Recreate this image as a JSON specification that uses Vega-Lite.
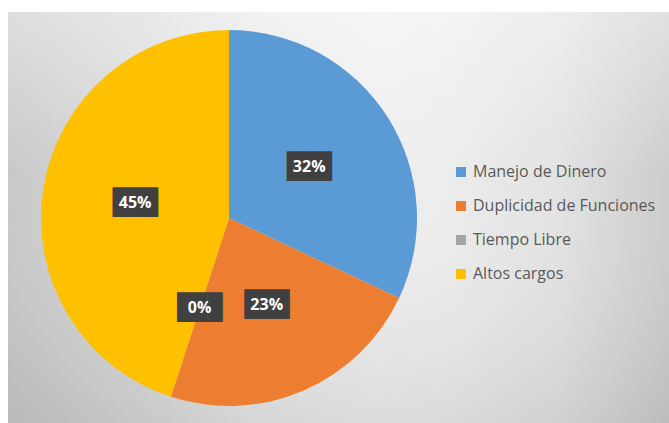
{
  "$schema": "https://vega.github.io/schema/vega-lite/v6.json",
  "padding": {"left": 8, "top": 12, "right": 0, "bottom": 0},
  "background": "#ffffff",
  "spacing": 0,
  "config": {"view": {"stroke": null}},
  "hconcat": [
    {
      "width": 442,
      "height": 412,
      "layer": [
        {
          "data": {"values": [{"fondo": 1}]},
          "mark": {
            "type": "rect",
            "color": {
              "gradient": "linear",
              "x1": 0, "y1": 0, "x2": 1, "y2": 0,
              "stops": [
                {"offset": 0, "color": "#c8c8c8"},
                {"offset": 0.3, "color": "#d8d8d8"},
                {"offset": 0.55, "color": "#e8e8e8"},
                {"offset": 0.84, "color": "#eeeeee"},
                {"offset": 1, "color": "#ececec"}
              ]
            }
          },
          "encoding": {}
        },
        {
          "data": {"values": [{"fondo": 1}]},
          "mark": {
            "type": "rect",
            "color": {
              "gradient": "linear",
              "x1": 0, "y1": 0, "x2": 0, "y2": 1,
              "stops": [
                {"offset": 0, "color": "rgba(255,255,255,0.4)"},
                {"offset": 0.4, "color": "rgba(255,255,255,0)"},
                {"offset": 1, "color": "rgba(0,0,0,0.08)"}
              ]
            }
          },
          "encoding": {}
        },
        {
          "data": {
            "values": [
              {"idx": 1, "categoria": "Manejo de Dinero", "valor": 32, "etiqueta": "32%"},
              {"idx": 2, "categoria": "Duplicidad de Funciones", "valor": 23, "etiqueta": "23%"},
              {"idx": 3, "categoria": "Tiempo Libre", "valor": 0, "etiqueta": "0%"},
              {"idx": 4, "categoria": "Altos cargos", "valor": 45, "etiqueta": "45%"}
            ]
          },
          "encoding": {
            "theta": {"field": "valor", "type": "quantitative", "stack": true},
            "order": {"field": "idx", "type": "quantitative"}
          },
          "layer": [
            {
              "mark": {"type": "arc", "outerRadius": 188},
              "encoding": {
                "color": {
                  "field": "categoria",
                  "type": "nominal",
                  "sort": ["Manejo de Dinero", "Duplicidad de Funciones", "Tiempo Libre", "Altos cargos"],
                  "scale": {
                    "domain": ["Manejo de Dinero", "Duplicidad de Funciones", "Tiempo Libre", "Altos cargos"],
                    "range": ["#5b9bd5", "#ed7d31", "#a5a5a5", "#ffc000"]
                  },
                  "legend": {
                    "title": null,
                    "orient": "none",
                    "legendX": 445,
                    "legendY": 152,
                    "symbolType": "square",
                    "symbolSize": 100,
                    "symbolStrokeWidth": 0,
                    "labelFont": "Open Sans",
                    "labelFontSize": 16,
                    "labelColor": "#595959",
                    "labelOffset": 4,
                    "labelLimit": 400,
                    "rowPadding": 18
                  }
                }
              }
            },
            {
              "mark": {
                "type": "text",
                "radius": 95,
                "font": "DejaVu Sans Mono",
                "fontSize": 25,
                "fill": "#404040",
                "baseline": "middle",
                "align": "center"
              },
              "encoding": {"text": {"value": "███"}}
            },
            {
              "mark": {
                "type": "text",
                "radius": 95,
                "font": "Open Sans",
                "fontSize": 16,
                "fontWeight": "bold",
                "fill": "#ffffff",
                "baseline": "middle",
                "align": "center"
              },
              "encoding": {"text": {"field": "etiqueta"}}
            }
          ]
        }
      ]
    },
    {
      "width": 219,
      "height": 412,
      "data": {"values": [{"fondo": 1}]},
      "layer": [
        {
          "mark": {
            "type": "rect",
            "color": {
              "gradient": "linear",
              "x1": 0, "y1": 0, "x2": 1, "y2": 0,
              "stops": [
                {"offset": 0, "color": "#ececec"},
                {"offset": 0.5, "color": "#e2e2e2"},
                {"offset": 1, "color": "#cccccc"}
              ]
            }
          },
          "encoding": {}
        },
        {
          "mark": {
            "type": "rect",
            "color": {
              "gradient": "linear",
              "x1": 0, "y1": 0, "x2": 0, "y2": 1,
              "stops": [
                {"offset": 0, "color": "rgba(255,255,255,0.4)"},
                {"offset": 0.4, "color": "rgba(255,255,255,0)"},
                {"offset": 1, "color": "rgba(0,0,0,0.08)"}
              ]
            }
          },
          "encoding": {}
        }
      ]
    }
  ]
}
